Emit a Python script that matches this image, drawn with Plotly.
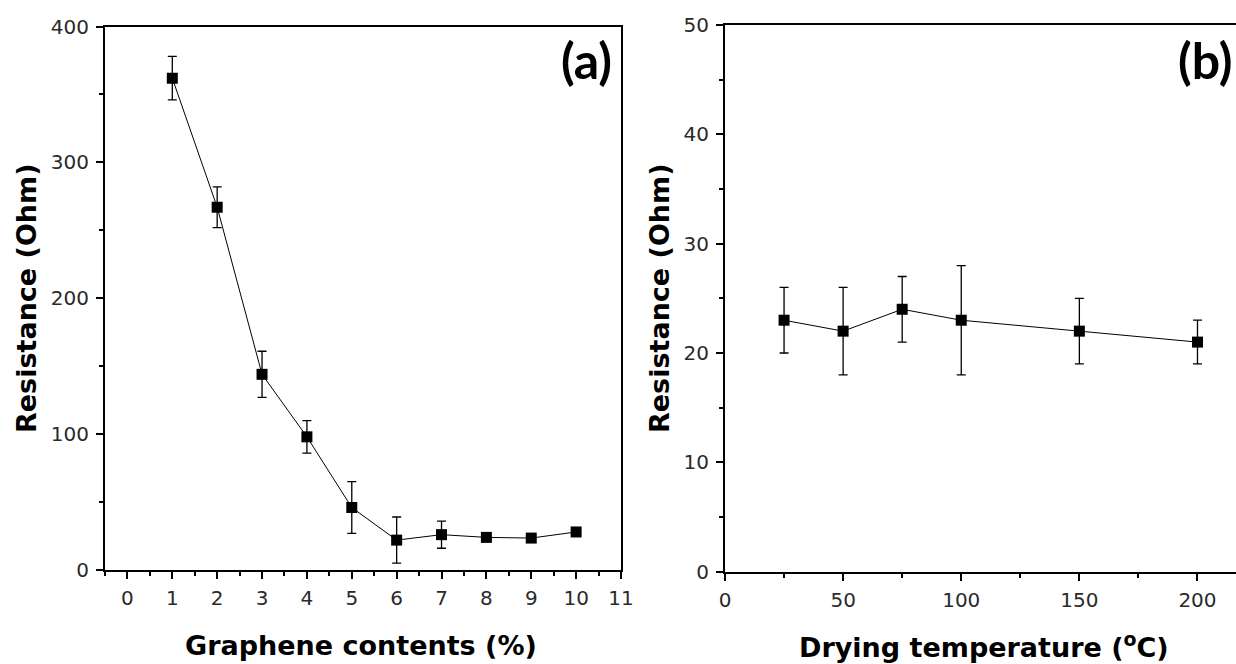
import plotly.graph_objects as go

W, H = 1236, 664

# Panel (a): resistance vs graphene content
graphene_pct = [1, 2, 3, 4, 5, 6, 7, 8, 9, 10]
resist_a = [362, 267, 144, 98, 46, 22, 26, 24, 23.5, 28]
err_a = [16, 15, 17, 12, 19, 17, 10, 2, 2, 2]

# Panel (b): resistance vs drying temperature
drying_temp = [25, 50, 75, 100, 150, 200]
resist_b = [23, 22, 24, 23, 22, 21]
err_b = [3, 4, 3, 5, 3, 2]

x_ticks_a = list(range(0, 12))
y_ticks_a = [0, 100, 200, 300, 400]
x_ticks_b = [0, 50, 100, 150, 200]
y_ticks_b = [0, 10, 20, 30, 40, 50]

def px_x(p):
    return p / W

def px_y(p):
    return 1 - p / H

fig = go.Figure()

marker = dict(symbol="square", size=11, color="black")
line = dict(color="black", width=1)

fig.add_trace(go.Scatter(
    x=graphene_pct, y=resist_a, mode="lines+markers",
    marker=marker, line=line,
    error_y=dict(type="data", array=err_a, visible=True, color="black", thickness=1.3, width=4.5),
    xaxis="x", yaxis="y", showlegend=False, hoverinfo="skip"))

fig.add_trace(go.Scatter(
    x=drying_temp, y=resist_b, mode="lines+markers",
    marker=marker, line=line,
    error_y=dict(type="data", array=err_b, visible=True, color="black", thickness=1.3, width=4.5),
    xaxis="x2", yaxis="y2", showlegend=False, hoverinfo="skip"))

tickfont = dict(family="DejaVu Sans", size=20, color="#2a2a2a")
common = dict(showgrid=False, zeroline=False, showline=True, linecolor="black", linewidth=2,
              ticks="outside", ticklen=7, tickwidth=2, tickcolor="black", tickfont=tickfont,
              automargin=False)

fig.update_layout(
    width=W, height=H, autosize=False,
    margin=dict(l=0, r=0, t=0, b=0, pad=0, autoexpand=False),
    paper_bgcolor="white", plot_bgcolor="white",
    xaxis=dict(domain=[px_x(105), px_x(621)], range=[-0.5, 11], anchor="y",
               tickvals=x_ticks_a, mirror=True,
               minor=dict(ticks="outside", ticklen=4, tickwidth=2, tickcolor="black", dtick=0.5, tick0=0),
               ticklabelstandoff=2, **common),
    yaxis=dict(domain=[px_y(570), px_y(26.5)], range=[0, 400], anchor="x",
               tickvals=y_ticks_a, mirror=True,
               minor=dict(ticks="outside", ticklen=4, tickwidth=2, tickcolor="black", dtick=50, tick0=0),
               ticklabelstandoff=3, **common),
    xaxis2=dict(domain=[px_x(725), 1.0], range=[0, 216.3], anchor="y2",
                tickvals=x_ticks_b, mirror=True,
                minor=dict(ticks="outside", ticklen=4, tickwidth=2, tickcolor="black", dtick=25, tick0=0),
                ticklabelstandoff=2, **common),
    yaxis2=dict(domain=[px_y(571.7), px_y(25)], range=[0, 50], anchor="x2",
                tickvals=y_ticks_b, mirror=False,
                minor=dict(ticks="outside", ticklen=4, tickwidth=2, tickcolor="black", dtick=5, tick0=0),
                ticklabelstandoff=3, **common),
)

title_font = dict(family="DejaVu Sans", size=27, color="black")
label_font = dict(family="Lato", size=50, color="black")

annotations = [
    dict(text="<b>Resistance (Ohm)</b>", x=px_x(26), y=px_y(298), textangle=-90,
         xanchor="center", yanchor="middle", font=title_font),
    dict(text="<b>Resistance (Ohm)</b>", x=px_x(659), y=px_y(298), textangle=-90,
         xanchor="center", yanchor="middle", font=title_font),
    dict(text="<b>Graphene contents (%)</b>", x=px_x(361), y=px_y(645),
         xanchor="center", yanchor="middle", font=title_font),
    dict(text="<b>Drying temperature (<sup>o</sup>C)</b>", x=px_x(984), y=px_y(645),
         xanchor="center", yanchor="middle", font=title_font),
    dict(text="<b>(a)</b>", x=px_x(614), y=px_y(60), xanchor="right", yanchor="middle", font=label_font),
    dict(text="<b>(b)</b>", x=px_x(1176), y=px_y(60), xanchor="left", yanchor="middle", font=label_font),
]
for a in annotations:
    a.update(xref="paper", yref="paper", showarrow=False)
fig.update_layout(annotations=annotations)

fig.write_html("out.html", config={"responsive": False, "displayModeBar": False},
               post_script="document.body.style.margin='0';document.body.style.overflow='hidden';")
